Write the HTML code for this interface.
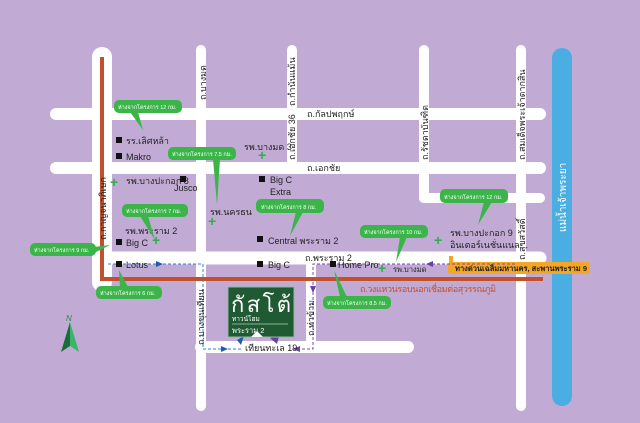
<!DOCTYPE html>
<html><head><meta charset="utf-8"><style>
html,body{margin:0;padding:0;background:#c1abd4;}
svg{display:block;font-family:"Liberation Sans","Noto Sans CJK SC",sans-serif;}
.l{font-size:9px;fill:#222;}
.c{font-size:5.5px;fill:#fff;}
.v{font-size:9px;fill:#222;}
</style></head><body>
<svg width="640" height="423" viewBox="0 0 640 423" xmlns="http://www.w3.org/2000/svg">
<rect width="640" height="423" fill="#c1abd4"/>
<g stroke="#fff" stroke-linecap="round" fill="none">
<line x1="102" y1="57" x2="102" y2="282" stroke-width="20"/>
<line x1="201" y1="50" x2="201" y2="406" stroke-width="10"/>
<line x1="292" y1="50" x2="292" y2="168" stroke-width="10"/>
<line x1="424" y1="50" x2="424" y2="198" stroke-width="10"/>
<line x1="521" y1="50" x2="521" y2="406" stroke-width="10"/>
<line x1="311" y1="258" x2="311" y2="347" stroke-width="10"/>
<line x1="56" y1="114" x2="540" y2="114" stroke-width="12"/>
<line x1="56" y1="168" x2="540" y2="168" stroke-width="12"/>
<polyline points="424,198 540,198" stroke-width="10"/>
<line x1="104" y1="258" x2="540" y2="258" stroke-width="13"/>
<line x1="201" y1="347" x2="408" y2="347" stroke-width="12"/>
</g>
<rect x="552" y="48" width="20" height="358" rx="10" fill="#4aaee3"/>
<g stroke="#c2502d" stroke-width="4" fill="none">
<polyline points="102,57 102,279 543,279"/>
</g>
<rect x="448" y="262" width="142" height="12" rx="3" fill="#f5a623"/>
<rect x="449" y="256" width="4" height="8" fill="#f5a623"/>
<text x="455" y="271" style="font-size:7.5px;fill:#222;font-weight:bold">ทางด่วนเฉลิมมหานคร, สะพานพระราม 9</text>
<!-- dashed -->
<g fill="none" stroke-width="1" stroke-dasharray="3,2">
<polyline points="108,264 203,264 203,349 243,349" stroke="#2f7fd0"/>
<polyline points="515,264 313,264 313,349 290,349" stroke="#7d4bb0"/>
</g>
<polygon points="156,261 163,264 156,267" fill="#1d5bb5"/>
<polygon points="221,346 228,349 221,352" fill="#1d5bb5"/>
<polygon points="433,261 426,264 433,267" fill="#6b3fa8"/>
<polygon points="310,286 313,293 316,286" fill="#6b3fa8"/>
<polygon points="300,346 293,349 300,352" fill="#6b3fa8"/>
<polygon points="237,340 244,336 241,345" fill="#1d5bb5"/>
<polygon points="270,338 277,344 279,336" fill="#6b3fa8"/>
<!-- logo -->
<rect x="228" y="287" width="66" height="50" fill="#1f5a33" stroke="#8fb89a" stroke-width="1"/>
<polygon points="251,337 257,331 263,337" fill="#fff"/>
<text x="231" y="312" style="font-size:22px;fill:#fff" textLength="60">กัสโต้</text>
<text x="232" y="321" style="font-size:6.5px;fill:#fff">ทาวน์โฮม</text>
<line x1="232" y1="324" x2="288" y2="324" stroke="#fff" stroke-width="0.6"/>
<text x="232" y="333" style="font-size:7.5px;fill:#fff">พระราม 2</text>
<!-- vertical labels -->
<g class="v">
<text transform="translate(106,240) rotate(-90)">ถ.กาญจนาภิเษก</text>
<text transform="translate(206,100) rotate(-90)">ถ.บางมด</text>
<text transform="translate(295,106) rotate(-90)">ถ.กำนันแม้น</text>
<text transform="translate(295,160) rotate(-90)">ถ.เอกชัย 36</text>
<text transform="translate(428,160) rotate(-90)">ถ.รัชดาบันฑิต</text>
<text transform="translate(525,160) rotate(-90)">ถ.สมเด็จพระเจ้าตากสิน</text>
<text transform="translate(525,260) rotate(-90)">ถ.สุขสวัสดิ์</text>
<text transform="translate(204,345) rotate(-90)">ถ.บางขุนเทียน</text>
<text transform="translate(314,336) rotate(-90)">ถ.ท่าข้าม</text>
<text transform="translate(566,232) rotate(-90)" style="fill:#fff;font-size:10px">แม่น้ำเจ้าพระยา</text>
</g>
<g class="l">
<text x="307" y="117">ถ.กัลปพฤกษ์</text>
<text x="307" y="171">ถ.เอกชัย</text>
<text x="305" y="261">ถ.พระราม 2</text>
<text x="244" y="150">รพ.บางมด 3</text>
<text x="126" y="144">รร.เลิศหล้า</text>
<text x="126" y="160">Makro</text>
<text x="126" y="184">รพ.บางปะกอก 8</text>
<text x="174" y="191">Jusco</text>
<text x="270" y="183">Big C</text>
<text x="270" y="195">Extra</text>
<text x="210" y="215">รพ.นครธน</text>
<text x="125" y="234">รพ.พระราม 2</text>
<text x="126" y="246">Big C</text>
<text x="268" y="244">Central พระราม 2</text>
<text x="450" y="236">รพ.บางปะกอก 9</text>
<text x="450" y="248">อินเตอร์เนชั่นแนล</text>
<text x="126" y="268">Lotus</text>
<text x="268" y="268">Big C</text>
<text x="338" y="268">Home Pro</text>
<text x="393" y="272" style="font-size:7.5px">รพ.บางมด</text>
<text x="245" y="351">เทียนทะเล 19</text>
<text x="360" y="292" style="fill:#c2502d;font-size:9px" textLength="136">ถ.วงแหวนรอบนอกเชื่อมต่อสุวรรณภูมิ</text>
</g>
<g fill="#111">
<rect x="116" y="137" width="6" height="6"/><rect x="116" y="153" width="6" height="6"/>
<rect x="180" y="176" width="6" height="6"/><rect x="259" y="176" width="6" height="6"/>
<rect x="116" y="239" width="6" height="6"/><rect x="257" y="236" width="6" height="6"/>
<rect x="116" y="261" width="6" height="6"/><rect x="257" y="261" width="6" height="6"/>
<rect x="330" y="261" width="6" height="6"/>
</g>
<g font-size="14" font-weight="bold" fill="#2fae4a">
<text x="110" y="187">+</text><text x="258" y="160">+</text><text x="208" y="226">+</text>
<text x="152" y="245">+</text><text x="434" y="245">+</text><text x="378" y="273">+</text>
</g>
<!-- callouts -->
<g fill="#3bb54a">
<rect x="114" y="100" width="68" height="13" rx="5"/><polygon points="130,112 138,112 143,130"/>
<rect x="168" y="147" width="68" height="13" rx="5"/><polygon points="213,159 220,159 217,205"/>
<rect x="122" y="204" width="66" height="13" rx="5"/><polygon points="140,216 148,216 155,240"/>
<rect x="256" y="199" width="68" height="14" rx="5"/><polygon points="296,212 303,212 290,236"/>
<rect x="30" y="243" width="66" height="13" rx="5"/><polygon points="94,247 94,253 110,245"/>
<rect x="96" y="286" width="66" height="13" rx="5"/><polygon points="120,287 128,287 119,270"/>
<rect x="360" y="225" width="68" height="13" rx="5"/><polygon points="400,237 407,237 396,262"/>
<rect x="440" y="189" width="68" height="14" rx="5"/><polygon points="484,202 492,202 478,225"/>
<rect x="323" y="296" width="68" height="13" rx="5"/><polygon points="340,297 347,297 334,270"/>
</g>
<g class="c">
<text x="118" y="109">ห่างจากโครงการ 12 กม.</text>
<text x="172" y="156">ห่างจากโครงการ 7.5 กม.</text>
<text x="126" y="213">ห่างจากโครงการ 7 กม.</text>
<text x="261" y="209">ห่างจากโครงการ 8 กม.</text>
<text x="34" y="252">ห่างจากโครงการ 9 กม.</text>
<text x="100" y="295">ห่างจากโครงการ 6 กม.</text>
<text x="364" y="234">ห่างจากโครงการ 10 กม.</text>
<text x="444" y="199">ห่างจากโครงการ 12 กม.</text>
<text x="327" y="305">ห่างจากโครงการ 8.5 กม.</text>
</g>
<!-- compass -->
<polygon points="70,322 61,352 70,346" fill="#1c6b3a"/>
<polygon points="70,322 79,352 70,346" fill="#3bb56a"/>
<text x="66" y="321" style="font-size:8px;fill:#2a8a4a;font-style:italic">N</text>
</svg>
</body></html>
